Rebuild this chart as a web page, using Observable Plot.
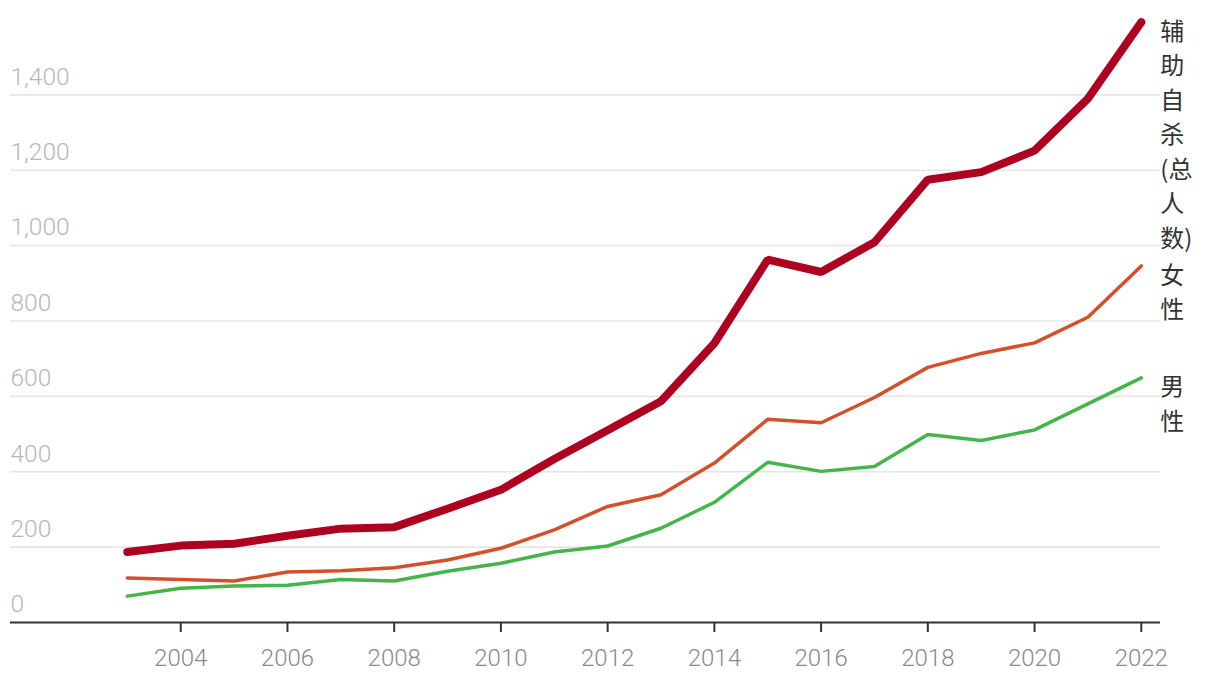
<!DOCTYPE html>
<html>
<head>
<meta charset="utf-8">
<script src="https://cdn.jsdelivr.net/npm/d3@7"></script>
<script src="https://cdn.jsdelivr.net/npm/@observablehq/plot@0.6"></script>
<style>
  html, body { margin: 0; padding: 0; background: #fff; }
  #chart svg { display: block; }
</style>
</head>
<body>
<div id="chart"></div>
<script>
const years = [2003,2004,2005,2006,2007,2008,2009,2010,2011,2012,2013,2014,2015,2016,2017,2018,2019,2020,2021,2022];
const total  = [187,204,209,230,249,253,302,352,434,510,587,741,963,930,1009,1175,1195,1252,1390,1593];
const female = [118,114,110,134,137,145,166,197,246,308,339,423,539,530,597,677,714,742,810,946];
const male   = [70,91,97,99,114,110,136,157,187,203,250,319,425,401,414,499,483,511,580,649];
const yTicks = [200,400,600,800,1000,1200,1400];
const xTicks = [2004,2006,2008,2010,2012,2014,2016,2018,2020,2022];

const seriesNames = ["辅\n助\n自\n杀\n(总\n人\n数)", "女\n性", "男\n性"];
const seriesColors = ["#ae0020", "#d4502b", "#44b649"];
const seriesWidths = [8, 3.5, 3.5];
const seriesValues = [total, female, male];

const rows = seriesValues.map((vals, i) => years.map((yr, j) => ({year: yr, value: vals[j], s: i})));
const ends = seriesValues.map((vals, i) => ({year: years[years.length - 1], value: vals[vals.length - 1], label: seriesNames[i]}));

const numFont = "Roboto, 'Noto Sans CJK SC', sans-serif";

const chart = Plot.plot({
  width: 1220,
  height: 684,
  marginLeft: 10,
  marginRight: 60,
  marginTop: 19,
  marginBottom: 62,
  x: {type: "linear", domain: [2000.81, 2022.36], axis: null},
  y: {domain: [0, 1600], axis: null},
  style: {fontFamily: numFont, background: "#fff"},
  marks: [
    Plot.ruleY(yTicks, {stroke: "#e6e6e6", strokeWidth: 1.6}),
    Plot.text([0, ...yTicks], {
      y: d => d, frameAnchor: "left", textAnchor: "start",
      text: d => d3.format(",")(d), dy: -18,
      fill: "#b8b8b8", fontSize: 24.5, fontWeight: 300
    }),
    Plot.axisX({
      ticks: xTicks, tickSize: 10, tickPadding: 16,
      tickFormat: d => String(d), stroke: "#333", strokeWidth: 2,
      fill: "#8a8a8a", fontSize: 24, fontWeight: 300, label: null
    }),
    Plot.ruleY([0], {stroke: "#333", strokeWidth: 2}),
    ...rows.map((r, i) => Plot.line(r, {
      x: "year", y: "value", stroke: seriesColors[i],
      strokeWidth: seriesWidths[i], strokeLinecap: "round", strokeLinejoin: "miter"
    })),
    Plot.text(ends, {
      x: "year", y: "value", text: "label", textAnchor: "start",
      lineAnchor: "top", lineHeight: 1.44, dx: 19, dy: -7,
      fill: "#333", fontSize: 24, fontFamily: "'Noto Sans CJK SC', sans-serif"
    })
  ]
});
document.getElementById("chart").appendChild(chart);
</script>
</body>
</html>
